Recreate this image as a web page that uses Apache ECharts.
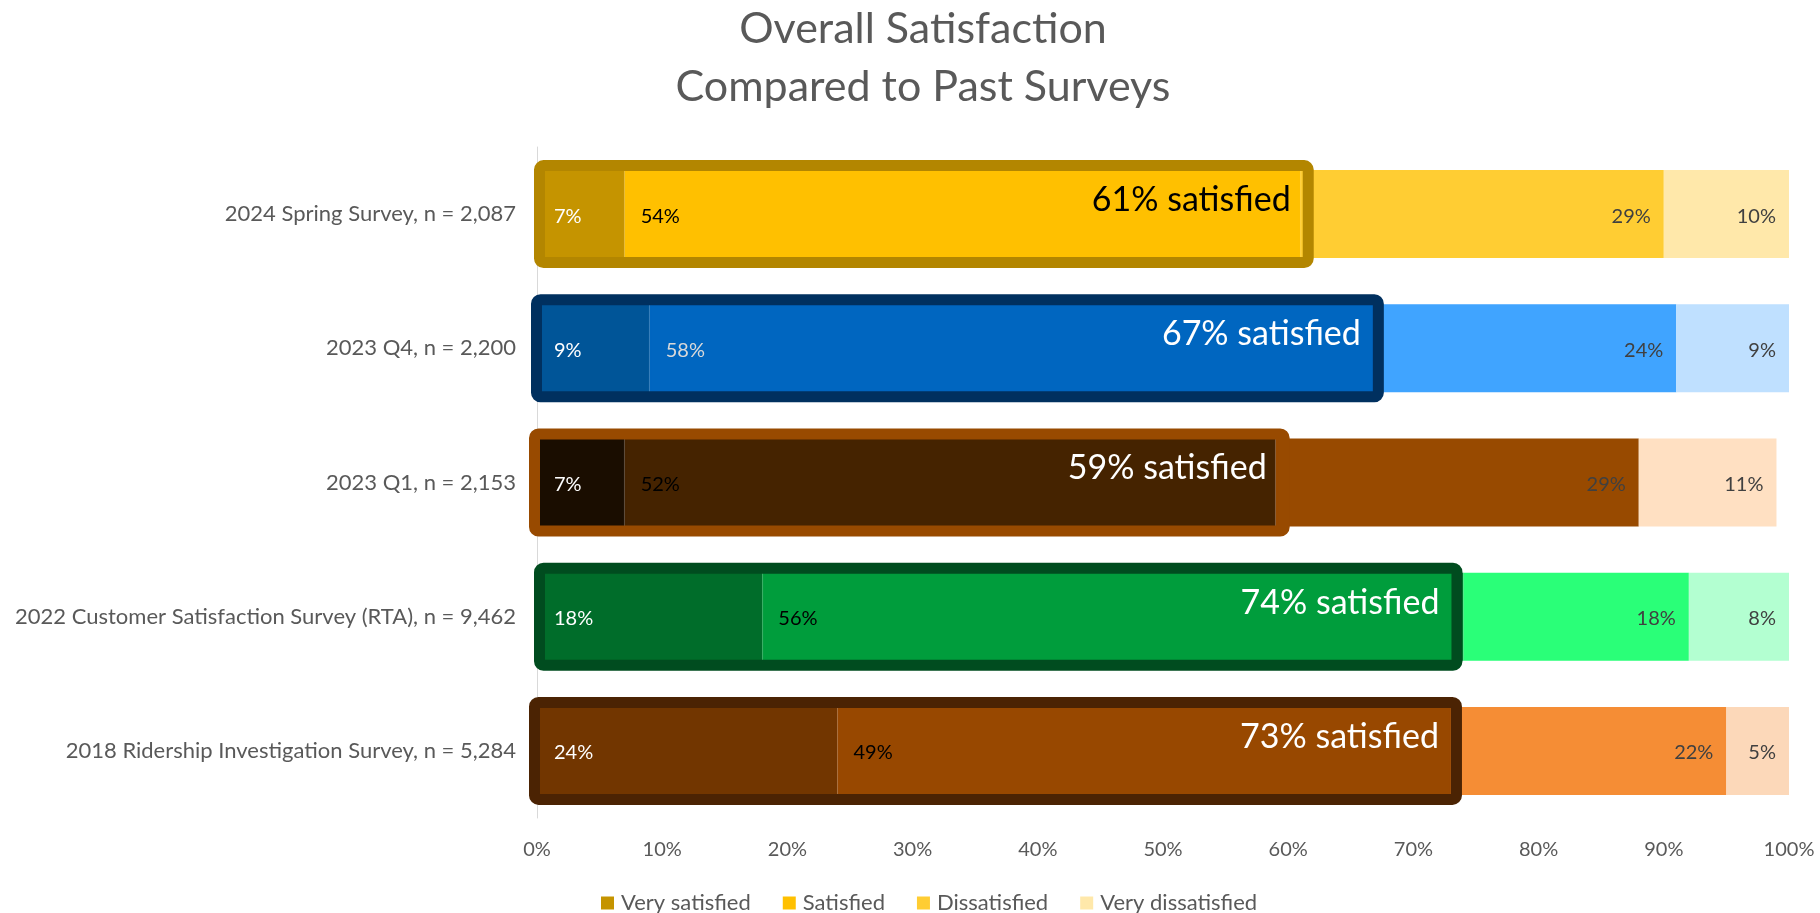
<!DOCTYPE html>
<html>
<head>
<meta charset="utf-8">
<title>Overall Satisfaction Compared to Past Surveys</title>
<script src="https://cdn.jsdelivr.net/npm/echarts@6/dist/echarts.min.js"></script>
<style>
  html, body { margin: 0; padding: 0; background: #ffffff; }
  #chart { width: 1820px; height: 913px; }
</style>
</head>
<body>
<div id="chart"></div>
<script>
// Survey rows, top to bottom
var surveys = [
  '2024 Spring Survey, n = 2,087',
  '2023 Q4, n = 2,200',
  '2023 Q1, n = 2,153',
  '2022 Customer Satisfaction Survey (RTA), n = 9,462',
  '2018 Ridership Investigation Survey, n = 5,284'
];

// Share of respondents (%) per answer
var verySatisfied     = [7, 9, 7, 18, 24];
var satisfied         = [54, 58, 52, 56, 49];
var dissatisfied      = [29, 24, 29, 18, 22];
var veryDissatisfied  = [10, 9, 11, 8, 5];

var answerNames = ['Very satisfied', 'Satisfied', 'Dissatisfied', 'Very dissatisfied'];

// Tick values for the percentage axis
var tickMin = 0, tickMax = 100, tickStep = 10;

// Colour scheme per survey row: [very satisfied, satisfied, dissatisfied, very dissatisfied]
var rowPalettes = [
  ['#C59400', '#FFC000', '#FFCD33', '#FFE8AA'],
  ['#005598', '#0066C0', '#40A4FF', '#BFE0FF'],
  ['#1A0D00', '#452300', '#984A00', '#FFE0C2'],
  ['#006D2A', '#009D3C', '#2AFF78', '#B3FFD1'],
  ['#723600', '#984800', '#F58D35', '#FCD8B9']
];
// Outline around the "satisfied" portion of each row
var boxColors = ['#B38600', '#00305F', '#984A00', '#004C1F', '#4B2303'];
// How far (px) each outline reaches past the left axis and past the end of its share
var boxLeftReach = [3, 6, 8, 3, 8];
var boxRightReach = [13, 8, 14, -1, 11];
// Text colours
var satisfiedLabelColors = ['#000000', '#D9D9D9', '#000000', '#000000', '#000000'];
var totalLabelColors = ['#000000', '#ffffff', '#ffffff', '#ffffff', '#ffffff'];

var FONT = 'Lato, "Open Sans", sans-serif';
var BAR_H = 88;
var BOX_LINE = 11;

var chart = echarts.init(document.getElementById('chart'), null, { renderer: 'canvas' });

function segmentSeries(k, values, labelPos, labelColors, distance) {
  return {
    name: answerNames[k],
    type: 'bar',
    stack: 'total',
    barWidth: BAR_H,
    itemStyle: { color: rowPalettes[0][k] },
    label: {
      show: true,
      position: labelPos,
      distance: distance,
      offset: [0, 2],
      formatter: '{c}%',
      fontFamily: FONT,
      fontSize: 20
    },
    emphasis: { disabled: true },
    data: values.map(function (v, i) {
      return {
        value: v,
        // same-colour edge closes the hairline seam between neighbouring segments
        itemStyle: { color: rowPalettes[i][k], borderColor: rowPalettes[i][k], borderWidth: 1.5 },
        label: { color: labelColors[i] }
      };
    }),
    z: 2
  };
}

var satisfiedTotals = verySatisfied.map(function (v, i) { return v + satisfied[i]; });

var option = {
  backgroundColor: '#ffffff',
  animation: false,
  title: {
    text: 'Overall Satisfaction\nCompared to Past Surveys',
    left: 923,
    top: 0,
    padding: 0,
    textAlign: 'center',
    textStyle: {
      fontFamily: FONT,
      fontWeight: 'normal',
      fontSize: 43,
      lineHeight: 58,
      color: '#595959'
    }
  },
  legend: {
    left: 596,
    top: 887,
    itemWidth: 13,
    itemHeight: 13,
    itemGap: 32,
    icon: 'rect',
    textStyle: { fontFamily: FONT, fontSize: 22, color: '#595959', padding: [0, 0, 0, 2] },
    data: answerNames
  },
  grid: {
    left: 537,
    right: 31,
    top: 147,
    bottom: 95,
    containLabel: false
  },
  xAxis: {
    type: 'value',
    min: tickMin,
    max: tickMax,
    interval: tickStep,
    axisLine: { show: false },
    axisTick: { show: false },
    splitLine: { show: false },
    axisLabel: {
      formatter: '{value}%',
      color: '#595959',
      fontFamily: FONT,
      fontSize: 20,
      margin: 22
    }
  },
  yAxis: {
    type: 'category',
    inverse: true,
    data: surveys,
    axisLine: { show: true, lineStyle: { color: '#D9D9D9', width: 1 } },
    axisTick: { show: false },
    axisLabel: {
      color: '#595959',
      fontFamily: FONT,
      fontSize: 22,
      margin: 21
    }
  },
  series: [
    segmentSeries(0, verySatisfied, 'insideLeft', ['#fff', '#fff', '#fff', '#fff', '#fff'], 17),
    segmentSeries(1, satisfied, 'insideLeft', satisfiedLabelColors, 16),
    segmentSeries(2, dissatisfied, 'insideRight', ['#404040', '#404040', '#404040', '#404040', '#404040'], 13),
    segmentSeries(3, veryDissatisfied, 'insideRight', ['#404040', '#404040', '#404040', '#404040', '#404040'], 13),
    {
      // Outlined box around the satisfied share, with its total written inside
      name: 'satisfied total',
      type: 'custom',
      z: 5,
      silent: true,
      encode: { x: 0, y: 1 },
      data: satisfiedTotals.map(function (v, i) { return [v, i]; }),
      renderItem: function (params, api) {
        var i = params.dataIndex;
        var total = api.value(0);
        var row = api.value(1);
        var p0 = api.coord([0, row]);
        var p1 = api.coord([total, row]);
        var cy = p0[1];
        var half = BAR_H / 2;
        var inset = BOX_LINE / 2;
        var x0 = p0[0] - boxLeftReach[i] + inset;
        var x1 = p1[0] + boxRightReach[i] - inset;
        var y0 = cy - half - 10 + inset;
        var y1 = cy + half + 10 - inset;
        return {
          type: 'group',
          children: [
            {
              type: 'rect',
              shape: { x: x0, y: y0, width: x1 - x0, height: y1 - y0, r: 4 },
              style: { fill: 'none', stroke: boxColors[i], lineWidth: BOX_LINE }
            },
            {
              type: 'text',
              style: {
                text: total + '% satisfied',
                x: x1 - inset - 12,
                y: cy - 14,
                align: 'right',
                verticalAlign: 'middle',
                fill: totalLabelColors[i],
                font: '34px ' + FONT
              }
            }
          ]
        };
      }
    }
  ]
};

chart.setOption(option);
</script>
</body>
</html>
